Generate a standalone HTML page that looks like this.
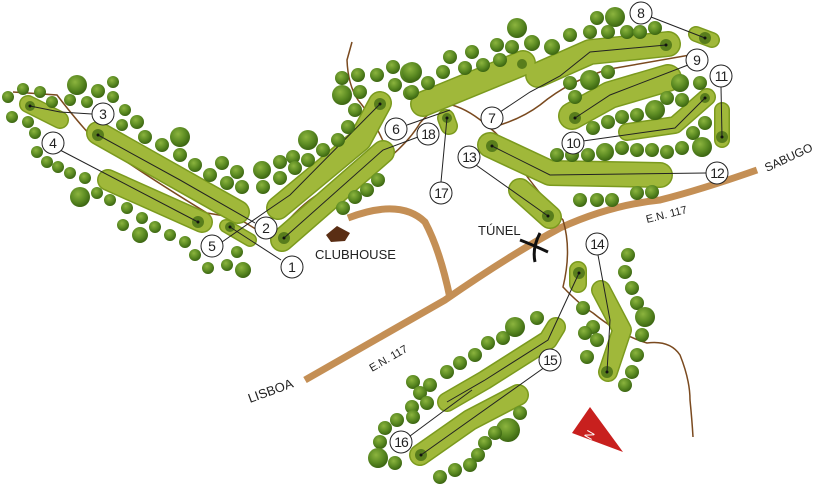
<!DOCTYPE html>
<html><head><meta charset="utf-8"><style>html,body{margin:0;padding:0;background:#fff}svg{display:block}text{font-family:"Liberation Sans",sans-serif}</style></head><body>
<svg width="819" height="486" viewBox="0 0 819 486" xmlns="http://www.w3.org/2000/svg">
<defs>
<radialGradient id="t" cx="40%" cy="35%" r="65%"><stop offset="0" stop-color="#8cb43e"/><stop offset="0.6" stop-color="#5b8a22"/><stop offset="1" stop-color="#3c6612"/></radialGradient>
</defs>
<!-- roads -->
<g fill="none" stroke="#c48f55" stroke-width="7" stroke-linecap="butt">
<path d="M305,380 L445,300 Q510,255 560,228 Q610,205 660,200 Q700,190 757,170"/>
<path d="M348,218 Q400,198 425,222 Q440,250 450,298"/>
</g>
<!-- brown path -->
<g fill="none" stroke="#7a4a1f" stroke-width="1.5">
<path d="M13,92 L57,95 Q80,125 95,140 Q140,172 207,213 L237,218 Q250,225 260,232 L277,233 Q300,205 320,193 Q370,170 390,157 Q410,140 420,123 Q435,105 452,105 Q470,110 490,128 Q520,120 540,105 Q570,80 610,69 Q650,62 690,55"/>
<path d="M352,42 L347,60 Q348,85 358,100 Q375,120 390,157"/>
<path d="M490,128 Q505,140 515,160 Q540,195 563,220 Q572,250 563,287 Q580,305 593,313 Q620,335 647,343 Q670,340 680,355 Q690,380 690,400 Q692,420 693,437"/>
</g>
<!-- fairways -->
<g fill="none" stroke-linecap="round" stroke-linejoin="round" stroke="#7b9a1e">
<path d="M28,104 L60,120" stroke-width="18"/>
<path d="M98,133 L238,212" stroke-width="24"/>
<path d="M108,180 L202,222" stroke-width="22"/>
<path d="M226,226 L250,240" stroke-width="14"/>
<path d="M380,103 L360,140 L278,208" stroke-width="24"/>
<path d="M383,152 L282,240" stroke-width="24"/>
<path d="M523,63 L423,104" stroke-width="26"/>
<path d="M538,75 L590,52 L668,44" stroke-width="26"/>
<path d="M696,34 L712,40" stroke-width="16"/>
<path d="M572,116 L610,95 L668,78" stroke-width="28"/>
<path d="M627,132 L675,125 L707,97" stroke-width="18"/>
<path d="M722,110 L722,140" stroke-width="16"/>
<path d="M490,145 L550,173 L660,175" stroke-width="26"/>
<path d="M520,190 L550,217" stroke-width="24"/>
<path d="M446,118 L449,126" stroke-width="18"/>
<path d="M578,270 L578,284" stroke-width="18"/>
<path d="M601,290 L622,330 L608,372" stroke-width="20"/>
<path d="M556,327 L548,340 L485,380 L447,402" stroke-width="20"/>
<path d="M518,395 L470,420 L420,455" stroke-width="22"/>
</g>
<g fill="none" stroke-linecap="round" stroke-linejoin="round" stroke="#a0b83a">
<path d="M28,104 L60,120" stroke-width="15"/>
<path d="M98,133 L238,212" stroke-width="21"/>
<path d="M108,180 L202,222" stroke-width="19"/>
<path d="M226,226 L250,240" stroke-width="11"/>
<path d="M380,103 L360,140 L278,208" stroke-width="21"/>
<path d="M383,152 L282,240" stroke-width="21"/>
<path d="M523,63 L423,104" stroke-width="23"/>
<path d="M538,75 L590,52 L668,44" stroke-width="23"/>
<path d="M696,34 L712,40" stroke-width="13"/>
<path d="M572,116 L610,95 L668,78" stroke-width="25"/>
<path d="M627,132 L675,125 L707,97" stroke-width="15"/>
<path d="M722,110 L722,140" stroke-width="13"/>
<path d="M490,145 L550,173 L660,175" stroke-width="23"/>
<path d="M520,190 L550,217" stroke-width="21"/>
<path d="M446,118 L449,126" stroke-width="15"/>
<path d="M578,270 L578,284" stroke-width="15"/>
<path d="M601,290 L622,330 L608,372" stroke-width="17"/>
<path d="M556,327 L548,340 L485,380 L447,402" stroke-width="17"/>
<path d="M518,395 L470,420 L420,455" stroke-width="19"/>
</g>
<!-- greens -->
<g fill="#587d1c">
<circle cx="30" cy="106" r="5"/><circle cx="98" cy="135" r="6"/><circle cx="198" cy="222" r="6"/><circle cx="230" cy="227" r="5"/>
<circle cx="380" cy="104" r="6"/><circle cx="284" cy="238" r="6"/><circle cx="522" cy="64" r="5"/><circle cx="666" cy="45" r="6"/>
<circle cx="705" cy="38" r="6"/><circle cx="575" cy="118" r="6"/><circle cx="705" cy="98" r="5"/><circle cx="722" cy="137" r="6"/>
<circle cx="492" cy="146" r="6"/><circle cx="548" cy="216" r="6"/><circle cx="447" cy="118" r="5"/><circle cx="579" cy="273" r="6"/>
<circle cx="607" cy="372" r="6"/><circle cx="421" cy="455" r="6"/>
</g>
<!-- leader lines -->
<g stroke="#222" stroke-width="1" fill="none">
<path d="M30,106 L60,112 L92,114"/><path d="M98,135 L180,180 L255,223"/><path d="M60,150 L198,222"/>
<path d="M222,242 L268,210 L290,195 L380,104"/><path d="M230,227 L281,260"/><path d="M284,238 L383,150 L418,137"/>
<path d="M407,125 L450,110"/><path d="M500,112 L530,92 L560,76 L590,52 L666,45"/><path d="M651,17 L705,38"/>
<path d="M688,65 L610,95 L575,118"/><path d="M583,141 L675,128 L705,98"/><path d="M721,87 L722,137"/>
<path d="M706,173 L550,175 L492,146"/><path d="M476,165 L548,216"/><path d="M441,182 L447,118"/>
<path d="M598,255 L610,320 L607,372"/><path d="M579,273 L548,340 L485,380 L447,402"/><path d="M410,436 L472,390"/><path d="M421,455 L545,367"/>
</g>
<g fill="#111"><circle cx="30" cy="106" r="1.5"/><circle cx="98" cy="135" r="1.5"/><circle cx="198" cy="222" r="1.5"/><circle cx="230" cy="227" r="1.5"/><circle cx="380" cy="104" r="1.5"/><circle cx="284" cy="238" r="1.5"/><circle cx="666" cy="45" r="1.5"/><circle cx="705" cy="38" r="1.5"/><circle cx="575" cy="118" r="1.5"/><circle cx="705" cy="98" r="1.5"/><circle cx="722" cy="137" r="1.5"/><circle cx="492" cy="146" r="1.5"/><circle cx="548" cy="216" r="1.5"/><circle cx="447" cy="118" r="1.5"/><circle cx="579" cy="273" r="1.5"/><circle cx="607" cy="372" r="1.5"/><circle cx="421" cy="455" r="1.5"/></g>
<!-- trees -->
<g fill="url(#t)">
<circle cx="8" cy="97" r="6"/><circle cx="23" cy="89" r="6"/><circle cx="40" cy="92" r="6"/><circle cx="52" cy="102" r="6"/><circle cx="77" cy="85" r="10"/><circle cx="98" cy="91" r="7"/><circle cx="113" cy="82" r="6"/><circle cx="113" cy="97" r="6"/><circle cx="70" cy="100" r="6"/><circle cx="87" cy="102" r="6"/><circle cx="125" cy="110" r="6"/><circle cx="122" cy="125" r="6"/><circle cx="137" cy="122" r="7"/>
<circle cx="12" cy="117" r="6"/><circle cx="28" cy="122" r="6"/><circle cx="35" cy="133" r="6"/><circle cx="37" cy="152" r="6"/><circle cx="47" cy="162" r="6"/><circle cx="58" cy="167" r="6"/><circle cx="70" cy="173" r="6"/><circle cx="85" cy="178" r="6"/><circle cx="80" cy="197" r="10"/><circle cx="97" cy="193" r="6"/><circle cx="110" cy="200" r="6"/><circle cx="127" cy="208" r="6"/><circle cx="142" cy="218" r="6"/><circle cx="155" cy="227" r="6"/><circle cx="123" cy="225" r="6"/><circle cx="140" cy="235" r="8"/><circle cx="170" cy="235" r="6"/><circle cx="185" cy="242" r="6"/><circle cx="195" cy="255" r="6"/><circle cx="208" cy="268" r="6"/><circle cx="227" cy="265" r="6"/><circle cx="243" cy="270" r="8"/><circle cx="237" cy="252" r="6"/>
<circle cx="145" cy="137" r="7"/><circle cx="162" cy="145" r="7"/><circle cx="180" cy="137" r="10"/><circle cx="180" cy="155" r="7"/><circle cx="195" cy="165" r="7"/><circle cx="210" cy="175" r="7"/><circle cx="222" cy="163" r="7"/><circle cx="237" cy="172" r="7"/><circle cx="227" cy="183" r="7"/><circle cx="242" cy="187" r="7"/><circle cx="262" cy="170" r="9"/><circle cx="263" cy="187" r="7"/><circle cx="280" cy="162" r="7"/><circle cx="293" cy="157" r="7"/><circle cx="308" cy="140" r="10"/><circle cx="323" cy="150" r="7"/><circle cx="338" cy="140" r="7"/><circle cx="280" cy="178" r="7"/><circle cx="308" cy="160" r="7"/><circle cx="295" cy="168" r="7"/>
<circle cx="342" cy="95" r="10"/><circle cx="342" cy="78" r="7"/><circle cx="358" cy="75" r="7"/><circle cx="377" cy="75" r="7"/><circle cx="393" cy="67" r="7"/><circle cx="410" cy="73" r="10"/><circle cx="360" cy="92" r="7"/><circle cx="395" cy="85" r="7"/><circle cx="410" cy="93" r="7"/><circle cx="355" cy="110" r="7"/><circle cx="348" cy="127" r="7"/><circle cx="343" cy="208" r="7"/><circle cx="355" cy="197" r="7"/><circle cx="367" cy="190" r="7"/><circle cx="378" cy="180" r="7"/>
<circle cx="517" cy="28" r="10"/><circle cx="497" cy="45" r="7"/><circle cx="512" cy="47" r="7"/><circle cx="532" cy="43" r="8"/><circle cx="552" cy="47" r="8"/><circle cx="570" cy="35" r="7"/><circle cx="590" cy="32" r="7"/><circle cx="597" cy="18" r="7"/><circle cx="615" cy="17" r="10"/><circle cx="608" cy="32" r="7"/><circle cx="627" cy="32" r="7"/><circle cx="640" cy="32" r="7"/><circle cx="655" cy="28" r="7"/>
<circle cx="450" cy="57" r="7"/><circle cx="472" cy="52" r="7"/><circle cx="443" cy="72" r="7"/><circle cx="465" cy="68" r="7"/><circle cx="483" cy="65" r="7"/><circle cx="500" cy="60" r="7"/><circle cx="412" cy="72" r="10"/><circle cx="428" cy="83" r="7"/><circle cx="412" cy="92" r="7"/>
<circle cx="570" cy="83" r="7"/><circle cx="575" cy="97" r="7"/><circle cx="590" cy="80" r="10"/><circle cx="608" cy="72" r="7"/><circle cx="680" cy="83" r="9"/><circle cx="700" cy="83" r="7"/><circle cx="667" cy="98" r="7"/><circle cx="682" cy="100" r="7"/><circle cx="655" cy="110" r="10"/><circle cx="637" cy="115" r="7"/><circle cx="622" cy="117" r="7"/><circle cx="608" cy="122" r="7"/><circle cx="593" cy="128" r="7"/><circle cx="693" cy="133" r="7"/><circle cx="705" cy="123" r="7"/>
<circle cx="702" cy="147" r="10"/><circle cx="682" cy="148" r="7"/><circle cx="667" cy="152" r="7"/><circle cx="652" cy="150" r="7"/><circle cx="637" cy="150" r="7"/><circle cx="622" cy="148" r="7"/><circle cx="605" cy="152" r="9"/><circle cx="588" cy="155" r="7"/><circle cx="572" cy="155" r="7"/><circle cx="557" cy="155" r="7"/>
<circle cx="580" cy="200" r="7"/><circle cx="597" cy="200" r="7"/><circle cx="612" cy="200" r="7"/><circle cx="637" cy="193" r="7"/><circle cx="652" cy="192" r="7"/>
<circle cx="628" cy="255" r="7"/><circle cx="625" cy="272" r="7"/><circle cx="632" cy="288" r="7"/><circle cx="637" cy="303" r="7"/><circle cx="645" cy="317" r="10"/><circle cx="642" cy="335" r="7"/><circle cx="637" cy="355" r="7"/><circle cx="632" cy="372" r="7"/><circle cx="625" cy="385" r="7"/>
<circle cx="583" cy="308" r="7"/><circle cx="593" cy="327" r="7"/><circle cx="585" cy="333" r="7"/><circle cx="597" cy="340" r="7"/><circle cx="587" cy="357" r="7"/>
<circle cx="537" cy="318" r="7"/><circle cx="515" cy="327" r="10"/><circle cx="503" cy="338" r="7"/><circle cx="488" cy="343" r="7"/><circle cx="475" cy="355" r="7"/><circle cx="460" cy="363" r="7"/><circle cx="447" cy="372" r="7"/><circle cx="413" cy="382" r="7"/><circle cx="430" cy="385" r="7"/><circle cx="420" cy="393" r="7"/><circle cx="427" cy="403" r="7"/><circle cx="412" cy="407" r="7"/><circle cx="413" cy="417" r="7"/><circle cx="397" cy="420" r="7"/><circle cx="385" cy="428" r="7"/><circle cx="380" cy="442" r="7"/><circle cx="378" cy="458" r="10"/><circle cx="395" cy="463" r="7"/>
<circle cx="520" cy="413" r="7"/><circle cx="508" cy="430" r="12"/><circle cx="495" cy="433" r="7"/><circle cx="485" cy="443" r="7"/><circle cx="478" cy="455" r="7"/><circle cx="470" cy="465" r="7"/><circle cx="455" cy="470" r="7"/><circle cx="440" cy="477" r="7"/>
</g>
<!-- number circles -->
<g fill="#fff" stroke="#222" stroke-width="1">
<circle cx="292" cy="267" r="11"/><circle cx="266" cy="228" r="11"/><circle cx="103" cy="114" r="11"/><circle cx="53" cy="143" r="11"/><circle cx="212" cy="246" r="11"/><circle cx="396" cy="129" r="11"/><circle cx="492" cy="118" r="11"/><circle cx="641" cy="13" r="11"/><circle cx="697" cy="60" r="11"/><circle cx="573" cy="143" r="11"/><circle cx="721" cy="76" r="11"/><circle cx="717" cy="173" r="11"/><circle cx="469" cy="157" r="11"/><circle cx="597" cy="244" r="11"/><circle cx="550" cy="360" r="11"/><circle cx="401" cy="442" r="11"/><circle cx="441" cy="193" r="11"/><circle cx="428" cy="134" r="11"/>
</g>
<g font-size="14" fill="#222" text-anchor="middle">
<text x="292" y="272">1</text><text x="266" y="233">2</text><text x="103" y="119">3</text><text x="53" y="148">4</text><text x="212" y="251">5</text><text x="396" y="134">6</text><text x="492" y="123">7</text><text x="641" y="18">8</text><text x="697" y="65">9</text><text x="573" y="148" letter-spacing="-1">10</text><text x="721" y="81" letter-spacing="-1">11</text><text x="717" y="178" letter-spacing="-1">12</text><text x="469" y="162" letter-spacing="-1">13</text><text x="597" y="249" letter-spacing="-1">14</text><text x="550" y="365" letter-spacing="-1">15</text><text x="401" y="447" letter-spacing="-1">16</text><text x="441" y="198" letter-spacing="-1">17</text><text x="428" y="139" letter-spacing="-1">18</text>
</g>
<!-- clubhouse -->
<path d="M326,235 L337,226 L350,233 L345,241 L331,242 Z" fill="#5a2e14"/>
<text x="315" y="259" font-size="13" fill="#222">CLUBHOUSE</text>
<!-- tunnel -->
<text x="478" y="235" font-size="13" fill="#222">TÚNEL</text>
<g stroke="#111" stroke-width="3" fill="none"><path d="M520,240 Q533,245 548,252"/><path d="M540,233 Q532,248 535,262"/></g>
<!-- labels -->
<text transform="translate(250,403) rotate(-20)" font-size="13" fill="#222">LISBOA</text>
<text transform="translate(372,372) rotate(-30)" font-size="11" fill="#222">E.N. 117</text>
<text transform="translate(647,223) rotate(-14)" font-size="11" fill="#222">E.N. 117</text>
<text transform="translate(767,172) rotate(-25)" font-size="12" fill="#222">SABUGO</text>
<!-- compass -->
<path d="M590,407 L572,433 L623,452 Z" fill="#c8201e"/>
<text transform="translate(593,437) rotate(-60)" font-size="12" fill="#fff" text-anchor="middle">N</text>
</svg>
</body></html>
